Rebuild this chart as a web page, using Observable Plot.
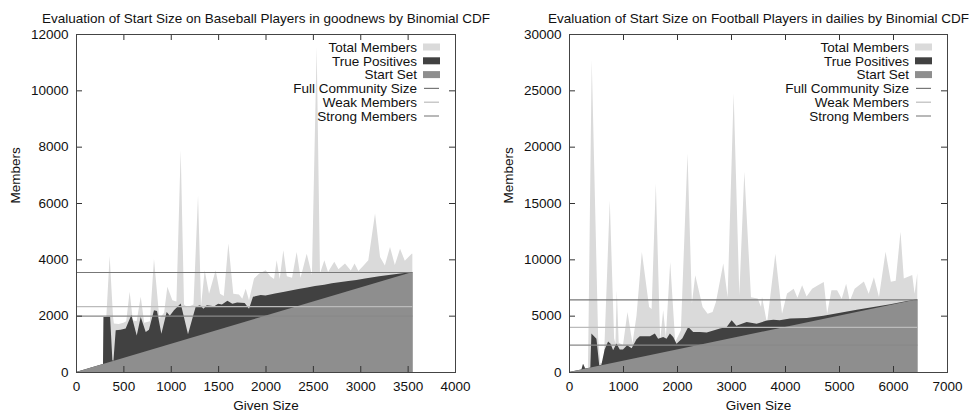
<!DOCTYPE html>
<html><head><meta charset="utf-8">
<script src="https://cdn.jsdelivr.net/npm/d3@7"></script>
<script src="https://cdn.jsdelivr.net/npm/@observablehq/plot@0.6"></script>
<style>
body{margin:0;background:#fff;}
#wrap{display:flex;width:969px;height:416px;overflow:hidden;background:#fff;}
#wrap svg{display:block;overflow:visible;}
</style></head><body><div id="wrap"></div>
<script>
// ---------- shared ----------
const seriesNames = ["Total Members","True Positives","Start Set","Full Community Size","Weak Members","Strong Members"];
const xAxisLabel = "Given Size";
const yAxisLabel = "Members";

// ---------- left panel: Baseball / goodnews ----------
const leftTitle = "Evaluation of Start Size on Baseball Players in goodnews by Binomial CDF";
const leftXTicks = [0,500,1000,1500,2000,2500,3000,3500,4000];
const leftYTicks = [0,2000,4000,6000,8000,10000,12000];
const leftTotalX = [0,285,290,320,355,391,400,450,500,530,566,600,640,683,720,780,823,880,930,964,1017,1060,1105,1140,1175,1240,1288,1320,1358,1404,1474,1520,1560,1608,1660,1720,1755,1791,1826,1879,1931,2002,2050,2090,2118,2150,2188,2225,2280,2329,2370,2435,2490,2540,2575,2621,2660,2726,2770,2839,2900,2940,2980,3035,3085,3156,3209,3260,3314,3365,3420,3470,3543,3550];
const leftTotalY = [0,285,1950,1954,4120,1954,1720,1700,1750,1800,2850,1840,1800,2670,1750,1800,4010,1900,2100,3030,2550,2500,7875,2400,2300,2400,6276,2350,3610,2780,3610,2780,2700,4560,2780,2750,2600,2960,2550,3320,3490,3610,3400,3300,3970,3300,4320,3400,3350,4260,3350,4200,3450,11540,3500,3970,3550,3910,3650,3850,3600,3850,3590,3780,3970,5630,4080,3780,4440,3800,4380,3950,4200,4200];
const leftTpX = [0,285,290,360,384,395,419,470,524,584,641,683,736,770,823,855,901,957,990,1034,1105,1182,1263,1309,1345,1380,1420,1460,1500,1540,1598,1650,1700,1780,1826,1868,1949,2000,2100,2200,2347,2440,2522,2620,2700,2874,2960,3050,3200,3300,3402,3550];
const leftTpY = [0,285,1954,1954,420,400,1480,1500,1540,2020,1300,1950,1420,1500,2190,2170,1360,2130,2000,2190,2430,1340,2320,2370,2250,2370,2350,2330,2420,2400,2530,2420,2470,2450,2250,2670,2730,2720,2790,2850,2950,3000,3050,3100,3150,3230,3270,3320,3400,3440,3490,3550];
const leftStartX = [0,3550];
const leftStartY = [0,3550];
const leftLevels = [3550,2340,2000]; // full, weak, strong

// ---------- right panel: Football / dailies ----------
const rightTitle = "Evaluation of Start Size on Football Players in dailies by Binomial CDF";
const rightXTicks = [0,1000,2000,3000,4000,5000,6000,7000];
const rightYTicks = [0,5000,10000,15000,20000,25000,30000];
const rightTotalX = [0,230,260,300,350,360,421,540,580,620,650,755,835,860,885,920,1000,1083,1175,1250,1349,1484,1530,1608,1688,1744,1794,1874,1967,2072,2195,2276,2338,2474,2567,2659,2721,2857,2937,3049,3154,3247,3370,3494,3556,3574,3667,3821,3945,4038,4161,4230,4317,4400,4502,4610,4718,4780,4860,4965,5050,5132,5200,5290,5461,5550,5646,5740,5862,5960,6050,6139,6200,6356,6400,6450];
const rightTotalY = [0,230,740,300,350,3400,27700,3000,800,800,1500,15230,3000,2500,7245,2600,2400,5320,2520,5000,10650,5770,5600,16730,2815,5480,3110,9770,2670,3700,19400,6070,8590,5770,5180,5330,6220,9620,6640,24720,6810,17770,6640,6520,5780,6670,4300,10490,5180,6960,7400,6600,7690,6700,7400,7700,7990,5180,7250,7250,6500,7840,6300,7400,8040,6950,8400,6660,10670,8000,8100,12440,8300,8600,6950,8760];
const rightTpX = [0,230,260,300,380,395,415,508,560,600,660,724,770,817,879,940,1000,1076,1160,1250,1311,1500,1590,1650,1744,1806,1868,1930,1991,2100,2208,2300,2424,2550,2796,2920,3012,3100,3290,3475,3661,3785,3900,4094,4403,4712,5021,5330,5639,5948,6257,6450];
const rightTpY = [0,230,740,300,380,395,3410,2960,600,650,2000,2700,2500,1930,2520,2000,2000,2370,2100,2900,3170,3170,3410,2960,3110,2960,3410,3100,2500,3000,4000,3540,3540,3500,3870,4000,4590,4100,4440,4290,4560,4640,4600,4750,4800,5000,5250,5520,5780,6020,6300,6450];
const rightStartX = [0,6450];
const rightStartY = [0,6450];
const rightLevels = [6450,4000,2430]; // full, weak, strong

// ---------- styles ----------
const fillColors = ["#dadada","#414141","#8e8e8e"];
const levelColors = ["#777777","#bbbbbb","#888888"];
const FONT = '"Liberation Sans", Arial, Helvetica, sans-serif';

function rows(xs, ys){ return xs.map((x,i)=>({x, y: ys[i]})); }

function panel(cfg){
  const H = 416, mt = 34, mb = 44;
  const innerW = cfg.width - cfg.ml - cfg.mr;
  const innerH = H - mt - mb;
  const xMax = cfg.xTicks[cfg.xTicks.length-1];
  const yMax = cfg.yTicks[cfg.yTicks.length-1];
  const end = cfg.startX[cfg.startX.length-1];
  const levelRows = cfg.levels.map((v,i)=>({v, name: seriesNames[3+i], c: levelColors[i]}));
  const tickStroke = "#333";
  const svg = Plot.plot({
    width: cfg.width, height: H,
    marginLeft: cfg.ml, marginRight: cfg.mr, marginTop: mt, marginBottom: mb,
    style: {fontFamily: FONT, fontSize: "13.5px", color: "#111", background: "transparent", overflow: "visible"},
    x: {domain: [0, xMax]},
    y: {domain: [0, yMax]},
    marks: [
      Plot.areaY(rows(cfg.totalX, cfg.totalY), {x:"x", y:"y", fill: fillColors[0], curve:"linear"}),
      Plot.areaY(rows(cfg.tpX, cfg.tpY), {x:"x", y:"y", fill: fillColors[1], curve:"linear"}),
      Plot.areaY(rows(cfg.startX, cfg.startY), {x:"x", y:"y", fill: fillColors[2], curve:"linear"}),
      Plot.ruleY(levelRows, {y:"v", x1: 0, x2: end, stroke: d=>d.c, strokeWidth: 1.2}),
      // inward ticks (bottom, top, left, right)
      Plot.tickX(cfg.xTicks, {x: d=>d, insetTop: innerH-6, stroke: tickStroke}),
      Plot.tickX(cfg.xTicks, {x: d=>d, insetBottom: innerH-6, stroke: tickStroke}),
      Plot.tickY(cfg.yTicks, {y: d=>d, insetRight: innerW-6, stroke: tickStroke}),
      Plot.tickY(cfg.yTicks, {y: d=>d, insetLeft: innerW-6, stroke: tickStroke}),
      Plot.frame({stroke: "#444", strokeWidth: 1}),
      Plot.axisX({ticks: cfg.xTicks, tickSize: 0, tickPadding: 9, label: null, tickFormat: d=>String(d)}),
      Plot.axisY({ticks: cfg.yTicks, tickSize: 0, tickPadding: 8, label: null, tickFormat: d=>String(d)}),
      Plot.text([cfg.title], {frameAnchor: "top", dy: -21, text: d=>d, fontSize: 13.5}),
      Plot.text([xAxisLabel], {frameAnchor: "bottom", dy: 37, text: d=>d, fontSize: 13.5}),
      Plot.text([yAxisLabel], {frameAnchor: "left", dx: -61, rotate: -90, text: d=>d, fontSize: 13.5})
    ]
  });
  // legend (top-right inside the frame)
  const g = d3.select(svg).append("g").attr("font-family", FONT).attr("font-size", 13.5).attr("fill", "#111");
  const right = cfg.width - cfg.mr;
  seriesNames.forEach((name, i) => {
    const y = mt + 13 + i*13.8;
    g.append("text").attr("x", right - 38).attr("y", y).attr("dy", "0.35em").attr("text-anchor", "end").text(name);
    if (i < 3) {
      g.append("rect").attr("x", right - 32).attr("y", y - 3.5).attr("width", 17).attr("height", 7).attr("fill", fillColors[i]);
    } else {
      g.append("line").attr("x1", right - 31).attr("x2", right - 16).attr("y1", y).attr("y2", y)
        .attr("stroke", levelColors[i-3]).attr("stroke-width", 1.2);
    }
  });
  return svg;
}

const wrap = document.getElementById("wrap");
wrap.append(panel({width: 484, ml: 76, mr: 29, title: leftTitle, xTicks: leftXTicks, yTicks: leftYTicks,
  totalX: leftTotalX, totalY: leftTotalY, tpX: leftTpX, tpY: leftTpY, startX: leftStartX, startY: leftStartY, levels: leftLevels}));
wrap.append(panel({width: 485, ml: 85, mr: 22, title: rightTitle, xTicks: rightXTicks, yTicks: rightYTicks,
  totalX: rightTotalX, totalY: rightTotalY, tpX: rightTpX, tpY: rightTpY, startX: rightStartX, startY: rightStartY, levels: rightLevels}));
</script></body></html>
